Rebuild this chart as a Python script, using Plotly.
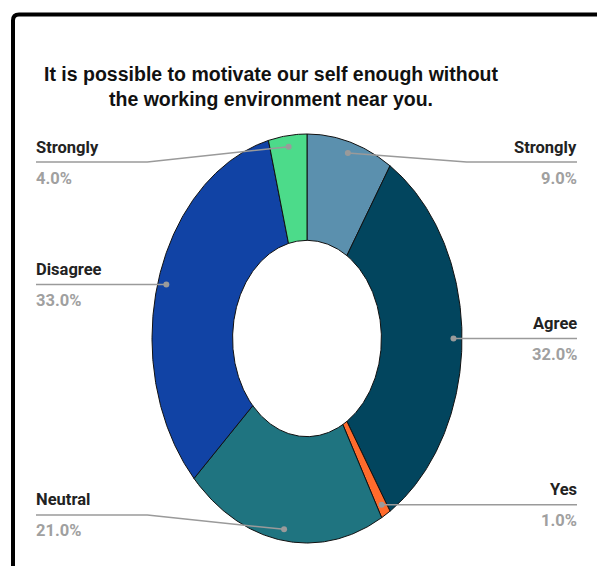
import numpy as np
import plotly.graph_objects as go

# Survey answers, clockwise from 12 o'clock
labels = ["Strongly", "Agree", "Yes", "Neutral", "Disagree", "Strongly"]
values = [9, 32, 1, 21, 33, 4]
colors = ["#5b90ae", "#02455e", "#ff6b2c", "#1f7480", "#1143a5", "#4cdb8a"]

title_text = ("It is possible to motivate our self enough without<br>"
              "the working environment near you.")

# Canvas and ring geometry (pixels)
W, H = 597, 566
CX, CY = 307, 338.5          # ring centre
RX, RY = 155, 204.5          # outer radii (the ring is drawn as an ellipse)
HOLE = 0.48                  # inner radius as a fraction of the outer one
DOT_R = 0.945                # where leader lines touch the slices
KNEE_R = 1.03                # where a bent leader line turns horizontal
LINE_LIM = 0.863             # highest / lowest horizontal leader line
LEFT_EDGE_PX, RIGHT_EDGE_PX = 36, 577
TEXT_PAD_PX = 2              # annotation box padding

x_range = [-CX / RX, (W - CX) / RX]
y_range = [-(H - CY) / RY, CY / RY]
left_edge = (LEFT_EDGE_PX - CX) / RX
right_edge = (RIGHT_EDGE_PX - CX) / RX
left_text = (LEFT_EDGE_PX - TEXT_PAD_PX - CX) / RX
right_text = (RIGHT_EDGE_PX + TEXT_PAD_PX - CX) / RX

total = float(sum(values))
fig = go.Figure()

LINE_GREY = "#9a9a9a"
LABEL_FONT = "Roboto, Arial, sans-serif"
annotations = []
start = 0.0
for name, val, col in zip(labels, values, colors):
    a0 = 2 * np.pi * start / total
    a1 = 2 * np.pi * (start + val) / total
    start += val
    n = max(int(val * 6), 8)
    t = np.linspace(a0, a1, n)
    xs = np.concatenate([np.sin(t), HOLE * np.sin(t[::-1]), [np.sin(t[0])]])
    ys = np.concatenate([np.cos(t), HOLE * np.cos(t[::-1]), [np.cos(t[0])]])
    fig.add_trace(go.Scatter(
        x=xs, y=ys, mode="lines", fill="toself", fillcolor=col,
        line=dict(color="#111111", width=1), hoverinfo="skip", showlegend=False,
    ))

    # leader line: dot on the slice -> optional knee -> horizontal run to the label
    mid = (a0 + a1) / 2
    side = 1 if np.sin(mid) >= 0 else -1
    dx, dy = DOT_R * np.sin(mid), DOT_R * np.cos(mid)
    ly = float(np.clip(dy, -LINE_LIM, LINE_LIM))
    end_x = right_edge if side > 0 else left_edge
    if abs(ly - dy) > 1e-9:
        lx, lyy = [dx, side * KNEE_R, end_x], [dy, ly, ly]
    else:
        lx, lyy = [dx, end_x], [dy, ly]
    fig.add_trace(go.Scatter(
        x=lx, y=lyy, mode="lines", line=dict(color=LINE_GREY, width=1.5),
        hoverinfo="skip", showlegend=False,
    ))
    fig.add_trace(go.Scatter(
        x=[dx], y=[dy], mode="markers",
        marker=dict(color=LINE_GREY, size=6), hoverinfo="skip", showlegend=False,
    ))

    anchor = "right" if side > 0 else "left"
    tx = right_text if side > 0 else left_text
    annotations.append(dict(
        x=tx, y=ly, xref="x", yref="y", xanchor=anchor, yanchor="middle",
        text=f"<b>{name}</b>", showarrow=False, yshift=15,
        font=dict(family=LABEL_FONT, size=16.5, color="#222222"),
    ))
    annotations.append(dict(
        x=tx, y=ly, xref="x", yref="y", xanchor=anchor, yanchor="middle",
        text=f"<b>{val / total * 100:.1f}%</b>", showarrow=False, yshift=-16,
        font=dict(family=LABEL_FONT, size=16.5, color="#a0a0a0"),
    ))

# frame with a rounded top-left corner (paper coordinates, margins are zero)
bx, by, br = 13 / W, 1 - 14.5 / H, 6
frame_path = (f"M {bx},-0.05 L {bx},{1 - (14.5 + br) / H} "
              f"Q {bx},{by} {(13 + br) / W},{by} L 1.05,{by}")

fig.update_layout(
    width=W, height=H,
    margin=dict(l=0, r=0, t=0, b=0),
    paper_bgcolor="white", plot_bgcolor="white",
    title=dict(
        text=f"<b>{title_text}</b>", x=271 / W, xanchor="center",
        y=1 - 81 / H, yanchor="middle", yref="container",
        font=dict(family="Arial, Liberation Sans, sans-serif", size=19.5, color="#111111"),
    ),
    xaxis=dict(range=x_range, visible=False, fixedrange=True),
    yaxis=dict(range=y_range, visible=False, fixedrange=True),
    annotations=annotations,
    shapes=[dict(
        type="path", xref="paper", yref="paper", path=frame_path,
        line=dict(color="black", width=4), layer="above",
    )],
)

fig.write_html("out.html")
